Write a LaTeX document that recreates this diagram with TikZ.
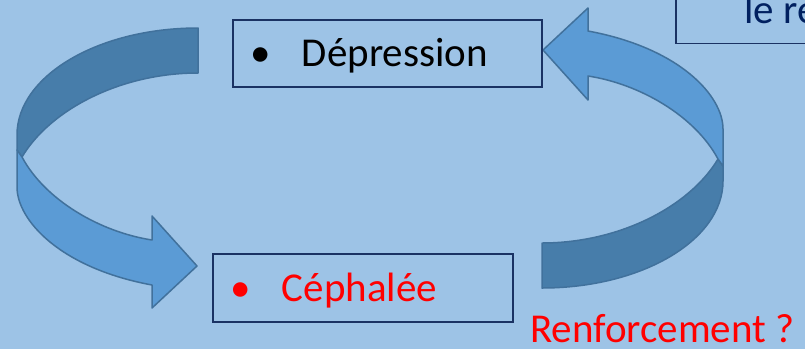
\documentclass[tikz,border=0pt]{standalone}
\usepackage{fontspec}
\setmainfont{Carlito}

\definecolor{slidebg}{HTML}{9DC3E6}
\definecolor{arrowfront}{HTML}{5B9BD5}
\definecolor{arrowback}{HTML}{477DAA}
\definecolor{arrowline}{HTML}{41719C}
\definecolor{boxline}{HTML}{1A3263}
\definecolor{navytext}{HTML}{002060}

\begin{document}
\begin{tikzpicture}[x=1pt, y=-1pt,
    every node/.style={font=\fontsize{41}{49}\selectfont},
    box/.style={draw=boxline, line width=2pt, inner xsep=17pt,
      align=left, text height=31pt, text depth=5pt},
    band/.style={draw=arrowline, line width=1.5pt, line join=round}]
  \fill[slidebg] (0,0) rectangle (805,349);
  \useasboundingbox (0,0) rectangle (805,349);

  % bent arrows: back half dark, front half light; the second one is turned round
  \foreach \ox/\oy/\turn in {0/0/0, 740/316/180} {
    \begin{scope}[shift={(\ox,\oy)}, rotate=\turn]
      \path[band, fill=arrowback] (198,28) .. controls (98,28) and (17,76) .. (17,135)
        -- (17,150) -- (22,157) .. controls (50,110) and (120,73) .. (198,73) -- cycle;
      \path[band, fill=arrowfront] (17,150) -- (17,187)
        .. controls (17,220) and (60,268) .. (152,285)
        -- (152,308) -- (197,266) -- (152,216) -- (152,240)
        .. controls (100,232) and (45,200) .. (22,157) -- cycle;
    \end{scope}
  }

  \node[box, minimum height=67pt, text width=275pt] (depr) at (387.5,53.5)
    {\makebox[52pt][l]{\textbullet}Dépression};
  \node[box, text=red, minimum height=68pt, text width=266pt] (ceph) at (363,288)
    {\makebox[52pt][l]{\textbullet}Céphalée};

  % box cut by the top right corner
  \node[draw=boxline, line width=1.5pt, minimum width=160pt, minimum height=70pt,
    anchor=south west] (note) at (675,44) {};
  \node[anchor=base west, inner sep=0pt, text=navytext] (notetext) at (744,23) {le re};

  \node[anchor=base west, inner sep=0pt, text=red] (reinf) at (530,342) {Renforcement ?};
\end{tikzpicture}
\end{document}
